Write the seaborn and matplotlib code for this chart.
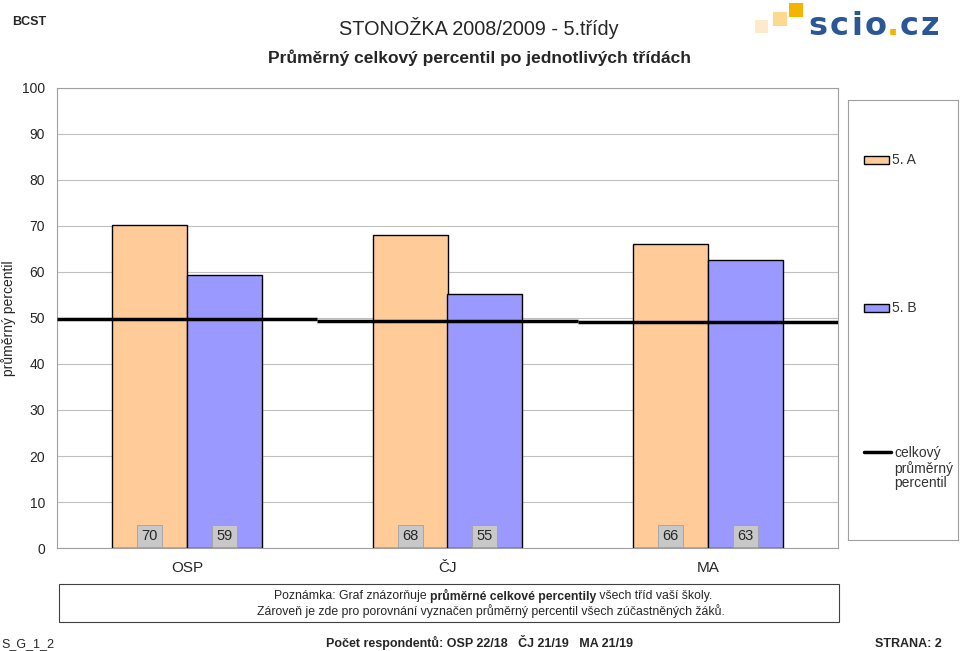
import pandas as pd
import seaborn as sns
import matplotlib.pyplot as plt
from matplotlib.patches import Rectangle
from matplotlib.lines import Line2D

# data
subjects = ['OSP', 'ČJ', 'MA']
classes = ['5. A', '5. B']
values_5a = [70.3, 68.1, 66.1]
values_5b = [59.4, 55.3, 62.7]
overall_avg = [49.8, 49.35, 49.1]
respondents = 'Počet respondentů: OSP 22/18   ČJ 21/19   MA 21/19'

colors = ['#FFCC99', '#9999FF']

df = pd.DataFrame({
    'subject': subjects * 2,
    'cls': [classes[0]] * 3 + [classes[1]] * 3,
    'value': values_5a + values_5b,
})

sns.set_theme(style='white')
plt.rcParams['font.family'] = ['Liberation Sans', 'DejaVu Sans']

W, H = 960, 651
fig = plt.figure(figsize=(9.6, 6.51), dpi=100)
ax = fig.add_axes([57 / W, 1 - 548 / H, 781 / W, 460 / H])

sns.barplot(data=df, x='subject', y='value', hue='cls', palette=colors,
            width=0.576, edgecolor='black', linewidth=1, saturation=1,
            legend=False, ax=ax, zorder=2)

# overall average as a step line
for i, v in enumerate(overall_avg):
    ax.hlines(v, i - 0.5, i + 0.5, color='black', lw=2.5, zorder=3)

# value labels at the foot of the bars
for cont in ax.containers:
    for bar in cont:
        h = bar.get_height()
        ax.text(bar.get_x() + bar.get_width() / 2, 2.6, f'{h:.0f}',
                ha='center', va='center', fontsize=10.5, zorder=4,
                bbox=dict(boxstyle='square,pad=0.3', fc='#C8C8C8', ec='#A0A0A0', lw=0.6))

ax.set_xlim(-0.5, 2.5)
ax.set_ylim(0, 100)
ax.set_yticks(range(0, 101, 10))
ax.yaxis.grid(True, color='#C0C0C0', lw=0.8, zorder=0)
ax.set_axisbelow(True)
for s in ax.spines.values():
    s.set_color('#A0A0A0')
    s.set_linewidth(0.8)
ax.tick_params(axis='y', length=0, labelsize=10, pad=8.5)
ax.tick_params(axis='x', which='major', length=0, labelsize=11, pad=9)
ax.set_xticks([0.5, 1.5], minor=True)
ax.tick_params(axis='x', which='minor', length=5, color='#A0A0A0', direction='out')
ax.set_xlabel('')
ax.set_ylabel('průměrný percentil', fontsize=10)
ax.yaxis.set_label_coords(-0.052, 0.5)

# legend box
lax = fig.add_axes([848 / W, 1 - 540 / H, 110 / W, 440 / H])
lax.set_xlim(0, 110)
lax.set_ylim(540, 100)
lax.set_xticks([])
lax.set_yticks([])
for s in lax.spines.values():
    s.set_color('#A0A0A0')
    s.set_linewidth(0.8)
for lab, col, yy in zip(classes, colors, [160, 308]):
    lax.add_patch(Rectangle((16, yy - 4), 25, 8, fc=col, ec='black', lw=1))
    lax.text(44, yy, lab, va='center', fontsize=10, color='#333333')
lax.add_line(Line2D([16, 43], [452, 452], color='black', lw=2.5))
lax.text(46, 446, 'celkový\nprůměrný\npercentil', va='top', fontsize=10,
         linespacing=1.05, color='#333333')

# header
fig.text(12 / W, 1 - 22 / H, 'BCST', fontsize=9, weight='bold', va='center')
fig.text(479 / W, 1 - 28 / H, 'STONOŽKA 2008/2009 - 5.třídy', fontsize=14.3,
         ha='center', va='center')
fig.text(479 / W, 1 - 58 / H, 'Průměrný celkový percentil po jednotlivých třídách',
         fontsize=12.5, weight='bold', ha='center', va='center')

# logo squares
for (x0, y0, sz, c) in [(755, 20, 13, '#FBEBCB'), (773, 12, 14, '#FCD98E'), (789, 3, 14, '#F5B400')]:
    fig.patches.append(Rectangle((x0 / W, 1 - (y0 + sz) / H), sz / W, sz / H,
                                 transform=fig.transFigure, fc=c, ec='none'))

fig.canvas.draw()
r = fig.canvas.get_renderer()

# logo text, letter by letter with a bit of extra spacing
x = 808
for ch in 'scio.cz':
    col = '#F5B400' if ch == '.' else '#2B5797'
    t = fig.text(x / W, 1 - 35 / H, ch, fontsize=23, weight='bold', color=col,
                 va='baseline', family='DejaVu Sans')
    x += t.get_window_extent(r).width + (0.5 if ch in '.o' else 2.5)

# note box
fig.patches.append(Rectangle((59 / W, 1 - 622 / H), 780 / W, 38 / H,
                             transform=fig.transFigure, fc='white', ec='#404040', lw=0.8))
parts = [('Poznámka: Graf znázorňuje ', 'normal'), ('průměrné celkové percentily', 'bold'),
         (' všech tříd vaší školy.', 'normal')]
ts = []
for txt, w in parts:
    ts.append(fig.text(0, 1 - 596 / H, txt, fontsize=8.8, weight=w, va='center'))
widths = [t.get_window_extent(r).width for t in ts]
x = 493 - sum(widths) / 2
for t, wd in zip(ts, widths):
    t.set_x(x / W)
    x += wd
fig.text(491 / W, 1 - 611 / H,
         'Zároveň je zde pro porovnání vyznačen průměrný percentil všech zúčastněných žáků.',
         fontsize=8.8, ha='center', va='center')

# footer
fig.text(1 / W, 1 - 647 / H, 'S_G_1_2', fontsize=9, va='baseline')
fig.text(479 / W, 1 - 647 / H, respondents, fontsize=9, weight='bold',
         ha='center', va='baseline')
fig.text(942 / W, 1 - 647 / H, 'STRANA: 2', fontsize=9, weight='bold',
         ha='right', va='baseline')

fig.savefig('out.png', dpi=100)
